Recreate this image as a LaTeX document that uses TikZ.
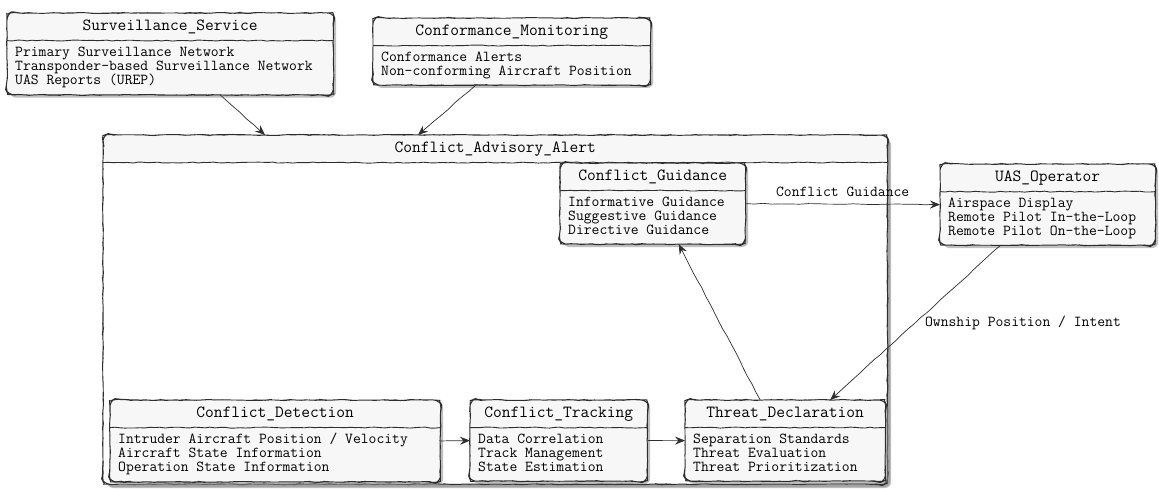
\documentclass[tikz,border=0pt]{standalone}
\usetikzlibrary{shapes.multipart,shadows,decorations.pathmorphing,arrows.meta,calc}

\definecolor{boxfill}{HTML}{F7F7F7}
\definecolor{boxline}{HTML}{2E2E2E}
\newcommand{\headfont}{\ttfamily\fontsize{17}{16}\selectfont}
\newcommand{\itemfont}{\ttfamily\fontsize{15.2}{14}\selectfont}
\newcommand{\items}[1]{{\itemfont\begin{tabular}{@{}l@{}}#1\end{tabular}}}
% hand drawn outline and title line of a component
\newcommand{\sketchbox}[1]{%
  \draw[sketch,rounded corners=6pt] (#1.north) -| (#1.east) |- (#1.south) -| (#1.west) |- (#1.north);
  \draw[sketch] (#1.text split west) -- (#1.text split east);}

\begin{document}
\begin{tikzpicture}[x=1pt,y=-1pt,
  sketch/.style={draw=boxline,line width=0.9pt,decorate,decoration={random steps,segment length=5pt,amplitude=0.5pt}},
  compbox/.style={rectangle split,rectangle split parts=2,rectangle split part align={center,left},
    fill=boxfill,rounded corners=6pt,inner xsep=8pt,inner ysep=5.5pt,anchor=north west,
    drop shadow={shadow xshift=3pt,shadow yshift=-3pt,fill=black!45,opacity=0.55}},
  flow/.style={draw=boxline,line width=0.7pt,-{Stealth[length=10pt,width=8pt,inset=3.5pt]},
    decorate,decoration={random steps,segment length=9pt,amplitude=0.4pt,post length=10pt}},
  lbl/.style={font=\itemfont}]
\pgfmathsetseed{3}
\useasboundingbox (0,0) rectangle (1159,489);

% outer component
\node[compbox,fill=white,minimum width=784,drop shadow={shadow xshift=4pt,shadow yshift=-4pt,fill=black!45,opacity=0.55},
  path picture={\fill[boxfill] (path picture bounding box.north west) rectangle ([yshift=-27pt]path picture bounding box.north east);}] (alert) at (103,135)
  {\headfont\strut Conflict\_Advisory\_Alert \nodepart{two}\rule{0pt}{310pt}};
\sketchbox{alert}

% sources
\node[compbox,minimum width=326] (surv) at (7,13)
  {\headfont\strut Surveillance\_Service \nodepart{two}\items{Primary Surveillance Network\\Transponder-based Surveillance Network\\UAS Reports (UREP)}};
\sketchbox{surv}
\node[compbox,minimum width=277] (conf) at (373,18)
  {\headfont\strut Conformance\_Monitoring \nodepart{two}\items{Conformance Alerts\\Non-conforming Aircraft Position}};
\sketchbox{conf}

% inner parts
\node[compbox,minimum width=185] (guid) at (560,163)
  {\headfont\strut Conflict\_Guidance \nodepart{two}\items{Informative Guidance\\Suggestive Guidance\\Directive Guidance}};
\sketchbox{guid}
\node[compbox,minimum width=330] (det) at (110,400)
  {\headfont\strut Conflict\_Detection \nodepart{two}\items{Intruder Aircraft Position / Velocity\\Aircraft State Information\\Operation State Information}};
\sketchbox{det}
\node[compbox,minimum width=177] (trk) at (470,400)
  {\headfont\strut Conflict\_Tracking \nodepart{two}\items{Data Correlation\\Track Management\\State Estimation}};
\sketchbox{trk}
\node[compbox,minimum width=200] (thr) at (685,400)
  {\headfont\strut Threat\_Declaration \nodepart{two}\items{Separation Standards\\Threat Evaluation\\Threat Prioritization}};
\sketchbox{thr}

% operator
\node[compbox,minimum width=215] (uas) at (940,164)
  {\headfont\strut UAS\_Operator \nodepart{two}\items{Airspace Display\\Remote Pilot In-the-Loop\\Remote Pilot On-the-Loop}};
\sketchbox{uas}

% flows
\draw[flow] ($(surv.south)+(50,0)$) -- ($(alert.north west)+(162,0)$);
\draw[flow] ($(conf.south)+(-36,0)$) -- ($(alert.north west)+(315,0)$);
\draw[flow] (guid.east) -- node[lbl,above=4pt] {Conflict Guidance} (uas.west);
\draw[flow] ($(uas.south)+(-47,0)$) -- node[lbl,pos=0.5,right=6pt] {Ownship Position / Intent} ($(thr.north)+(45,0)$);
\draw[flow] ($(thr.north)+(-25,0)$) -- ($(guid.south)+(26,0)$);
\draw[flow] (det.east) -- (trk.west);
\draw[flow] (trk.east) -- (thr.west);
\end{tikzpicture}
\end{document}
